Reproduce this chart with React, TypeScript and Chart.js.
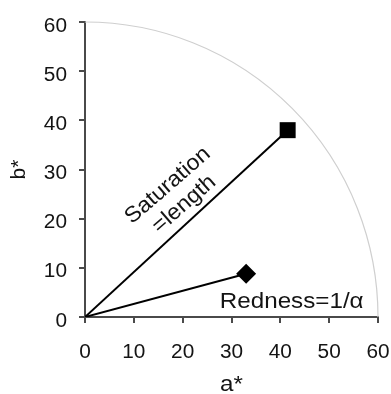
import React, { useEffect, useRef } from "react";
import { Chart, registerables } from "chart.js";

Chart.register(...registerables);

// ---- data ----
const xTickValues = [0, 10, 20, 30, 40, 50, 60];
const yTickValues = [0, 10, 20, 30, 40, 50, 60];
const xTickLabels = ["0", "10", "20", "30", "40", "50", "60"];
const yTickLabels = ["0", "10", "20", "30", "40", "50", "60"];
const saturationA = [0, 41.5];
const saturationB = [0, 38];
const rednessA = [0, 33];
const rednessB = [0, 8.8];
const ARC_RADIUS = 60;
const xTitle = "a*";
const yTitle = "b*";
const saturationLabel = ["Saturation", "=length"];
const rednessLabel = "Redness=1/α";

const FONT = "'Liberation Sans', Arial, Helvetica, sans-serif";
const AXIS_COLOR = "#4a4a4a";
const TEXT_COLOR = "#141414";

function drawText(
  ctx: CanvasRenderingContext2D,
  text: string,
  x: number,
  y: number,
  opts: { size: number; align?: CanvasTextAlign; rotation?: number; stretch?: number }
) {
  ctx.save();
  ctx.translate(x, y);
  if (opts.rotation) ctx.rotate(opts.rotation);
  ctx.scale(opts.stretch ?? 1.1, 1);
  ctx.font = `${opts.size}px ${FONT}`;
  ctx.fillStyle = TEXT_COLOR;
  ctx.textAlign = opts.align ?? "left";
  ctx.textBaseline = "alphabetic";
  ctx.fillText(text, 0, 0);
  ctx.restore();
}

const arcPlugin = {
  id: "arcPlugin",
  beforeDatasetsDraw(chart: any) {
    const { ctx, scales } = chart;
    const x = scales.x;
    const y = scales.y;
    const cx = x.getPixelForValue(0);
    const cy = y.getPixelForValue(0);
    const rx = x.getPixelForValue(ARC_RADIUS) - cx;
    const ry = cy - y.getPixelForValue(ARC_RADIUS);
    ctx.save();
    ctx.beginPath();
    ctx.ellipse(cx, cy, rx, ry, 0, -Math.PI / 2, 0);
    ctx.strokeStyle = "#cfcfcf";
    ctx.lineWidth = 1.2;
    ctx.stroke();
    ctx.restore();
  },
};

const textPlugin = {
  id: "textPlugin",
  afterDraw(chart: any) {
    const { ctx, scales, chartArea } = chart;
    const x = scales.x;
    const y = scales.y;

    // tick labels
    xTickValues.forEach((v, i) => {
      drawText(ctx, xTickLabels[i], x.getPixelForValue(v), x.top + 40.5, {
        size: 20,
        align: "center",
        stretch: 1.04,
      });
    });
    yTickValues.forEach((v, i) => {
      drawText(ctx, yTickLabels[i], chartArea.left - 18, y.getPixelForValue(v) + 9.5, {
        size: 20,
        align: "right",
        stretch: 1.04,
      });
    });

    // axis titles
    drawText(ctx, xTitle, (chartArea.left + chartArea.right) / 2, x.top + 74, {
      size: 22,
      align: "center",
    });
    drawText(ctx, yTitle, 25, (chartArea.top + chartArea.bottom) / 2, {
      size: 21,
      align: "center",
      rotation: -Math.PI / 2,
      stretch: 1,
    });

    // saturation label, rotated along the line
    const sx = x.getPixelForValue(18.3);
    const sy = y.getPixelForValue(25.2);
    const rot = (-41 * Math.PI) / 180;
    ctx.save();
    ctx.translate(sx, sy);
    ctx.rotate(rot);
    drawText(ctx, saturationLabel[0], 0, -4, { size: 22, align: "center", stretch: 1.05 });
    drawText(ctx, saturationLabel[1], 0, 21, { size: 22, align: "center", stretch: 1.05 });
    ctx.restore();

    // redness label
    drawText(ctx, rednessLabel, x.getPixelForValue(27.6), y.getPixelForValue(0) - 9, {
      size: 22,
      align: "left",
    });
  },
};

export default function App() {
  const ref = useRef<HTMLCanvasElement | null>(null);

  useEffect(() => {
    document.body.style.margin = "0";
    const canvas = ref.current;
    if (!canvas) return;

    const axisCommon = (ticks: number[]) => ({
      type: "linear" as const,
      min: 0,
      max: 60,
      afterBuildTicks: (scale: any) => {
        scale.ticks = ticks.map((v) => ({ value: v }));
      },
      ticks: { display: false },
      grid: {
        display: true,
        drawOnChartArea: false,
        drawTicks: true,
        tickLength: 6,
        color: AXIS_COLOR,
        lineWidth: 2,
      },
      border: { display: true, color: AXIS_COLOR, width: 2 },
      title: { display: false },
    });

    const chart = new Chart(canvas, {
      type: "scatter",
      data: {
        datasets: [
          {
            label: "Saturation",
            data: saturationA.map((a, i) => ({ x: a, y: saturationB[i] })),
            showLine: true,
            borderColor: "#000",
            borderWidth: 2,
            pointStyle: "rect",
            pointRadius: [0, 11.3],
            pointBackgroundColor: "#000",
            pointBorderColor: "#000",
            pointBorderWidth: 0,
          },
          {
            label: "Redness",
            data: rednessA.map((a, i) => ({ x: a, y: rednessB[i] })),
            showLine: true,
            borderColor: "#000",
            borderWidth: 2,
            pointStyle: "rectRot",
            pointRadius: [0, 10],
            pointBackgroundColor: "#000",
            pointBorderColor: "#000",
            pointBorderWidth: 0,
          },
        ],
      },
      options: {
        responsive: false,
        maintainAspectRatio: false,
        animation: false,
        layout: { padding: { top: 22, right: 13, left: 0, bottom: 0 } },
        plugins: {
          legend: { display: false },
          tooltip: { enabled: false },
        },
        scales: {
          x: {
            ...axisCommon(xTickValues),
            position: "bottom",
            afterFit: (scale: any) => {
              scale.height = 77;
            },
          },
          y: {
            ...axisCommon(yTickValues),
            position: "left",
            afterFit: (scale: any) => {
              scale.width = 85;
            },
          },
        },
      } as any,
      plugins: [arcPlugin, textPlugin],
    });

    return () => chart.destroy();
  }, []);

  return (
    <div style={{ width: 391, height: 394 }}>
      <canvas ref={ref} width={391} height={394} style={{ width: 391, height: 394, display: "block" }} />
    </div>
  );
}
